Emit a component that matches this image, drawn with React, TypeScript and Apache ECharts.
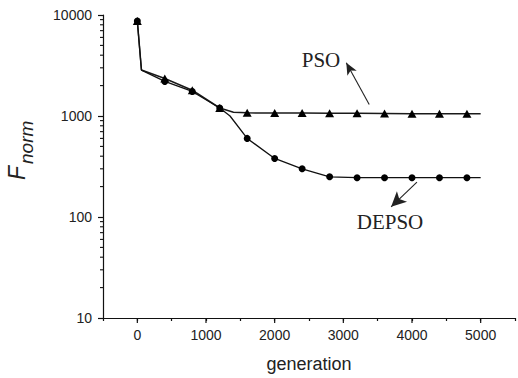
import React, { useEffect, useRef } from "react";
import * as echarts from "echarts";

const generations = [0, 60, 400, 800, 1200, 1400, 1600, 2000, 2400, 2800, 3200, 3600, 4000, 4400, 4800, 5000];
const psoValues = [8700, 2850, 2350, 1800, 1200, 1090, 1075, 1070, 1068, 1065, 1062, 1058, 1055, 1052, 1050, 1050];
const depsoGenerations = [0, 60, 400, 800, 1200, 1350, 1600, 2000, 2400, 2800, 3200, 3600, 4000, 4400, 4800, 5000];
const depsoValues = [8700, 2850, 2200, 1750, 1200, 1000, 600, 380, 300, 250, 245, 245, 245, 245, 245, 245];
const markerEvery = 400;

const yTickLabels = [10, 100, 1000, 10000];
const xTickLabels = [0, 1000, 2000, 3000, 4000, 5000];
const yMinorTicks = [20, 30, 40, 50, 60, 70, 80, 90, 200, 300, 400, 500, 600, 700, 800, 900, 2000, 3000, 4000, 5000, 6000, 7000, 8000, 9000];

// annotation anchor points (data coords)
const psoArrow = [[3377, 1300], [3043, 3370]];
const depsoArrow = [[4072, 221], [3696, 126]];

const SANS = '"Liberation Sans", Arial, sans-serif';
const SERIF = '"Liberation Serif", "Times New Roman", serif';

function buildData(xs: number[], ys: number[]) {
  return xs.map((x, i) => ({
    value: [x, ys[i]],
    symbol: x % markerEvery === 0 && x <= 4800 ? undefined : "none",
  }));
}

export default function App() {
  const ref = useRef<HTMLDivElement>(null);
  useEffect(() => {
    const chart = echarts.init(ref.current!, null, { renderer: "svg" });
    const xMin = -500;
    chart.setOption({
      animation: false,
      grid: { left: 103, top: 15, right: 1, bottom: 59, containLabel: false },
      xAxis: {
        type: "value",
        min: xMin,
        max: 5500,
        interval: 500,
        name: "generation",
        nameLocation: "middle",
        nameGap: 37,
        nameTextStyle: { fontFamily: SANS, fontSize: 18, color: "#222" },
        axisLine: { show: true, onZero: false, lineStyle: { color: "#111", width: 1.2 } },
        axisTick: { show: true, inside: false, length: 3, lineStyle: { color: "#111", width: 1.2 } },
        axisLabel: {
          margin: 10,
          fontFamily: SANS,
          fontSize: 14,
          color: "#222",
          formatter: (v: number) => (xTickLabels.includes(v) ? String(v) : ""),
        },
        splitLine: { show: false },
      },
      yAxis: {
        type: "log",
        logBase: 10,
        min: 10,
        max: 10000,
        axisLine: { show: true, onZero: false, lineStyle: { color: "#111", width: 1.2 } },
        axisTick: { show: true, inside: false, length: 5, lineStyle: { color: "#111", width: 1.2 } },
        axisLabel: {
          margin: 11,
          fontFamily: SANS,
          fontSize: 14,
          color: "#222",
          formatter: (v: number) => {
            const r = Math.round(v);
            return yTickLabels.includes(r) ? String(r) : "";
          },
        },
        splitLine: { show: false },
      },
      series: [
        {
          type: "line",
          name: "PSO",
          data: buildData(generations, psoValues),
          symbol: "triangle",
          symbolSize: [9, 8],
          lineStyle: { color: "#1a1a1a", width: 1.5 },
          itemStyle: { color: "#000" },
          markLine: {
            silent: true,
            symbol: ["none", "arrow"],
            symbolSize: [8, 12],
            label: { show: false },
            lineStyle: { color: "#222", width: 1.1, type: "solid" },
            data: [[{ coord: psoArrow[0] }, { coord: psoArrow[1] }]],
          },
          z: 3,
        },
        {
          type: "line",
          name: "DEPSO",
          data: buildData(depsoGenerations, depsoValues),
          symbol: "circle",
          symbolSize: 7,
          lineStyle: { color: "#111", width: 1.3 },
          itemStyle: { color: "#000" },
          markLine: {
            silent: true,
            symbol: ["none", "arrow"],
            symbolSize: [11, 15],
            label: { show: false },
            lineStyle: { color: "#222", width: 1.1, type: "solid" },
            data: [[{ coord: depsoArrow[0] }, { coord: depsoArrow[1] }]],
          },
          z: 4,
        },
        {
          type: "custom",
          silent: true,
          clip: false,
          data: yMinorTicks.map((v) => [xMin, v]),
          renderItem: (params: any, api: any) => {
            const p = api.coord([api.value(0), api.value(1)]);
            return {
              type: "line",
              shape: { x1: p[0] - 3, y1: p[1], x2: p[0], y2: p[1] },
              style: { stroke: "#111", lineWidth: 1.1 },
            };
          },
        },
        {
          type: "custom",
          silent: true,
          clip: false,
          data: xTickLabels.map((v) => [v, 10]),
          renderItem: (params: any, api: any) => {
            const p = api.coord([api.value(0), api.value(1)]);
            return {
              type: "line",
              shape: { x1: p[0], y1: p[1], x2: p[0], y2: p[1] + 5 },
              style: { stroke: "#111", lineWidth: 1.2 },
            };
          },
        },
      ],
      graphic: [
        {
          type: "text",
          x: 17,
          y: 180,
          rotation: Math.PI / 2,
          style: { text: "F", font: `italic 23px ${SANS}`, fill: "#222", textAlign: "left", textVerticalAlign: "middle" },
        },
        {
          type: "text",
          x: 26,
          y: 164,
          rotation: Math.PI / 2,
          style: { text: "norm", font: `italic 19px ${SANS}`, fill: "#222", textAlign: "left", textVerticalAlign: "middle" },
        },
        {
          type: "text",
          x: 321,
          y: 60,
          style: { text: "PSO", font: `21px ${SERIF}`, fill: "#222", textAlign: "center", textVerticalAlign: "middle" },
        },
        {
          type: "text",
          x: 390,
          y: 222,
          style: { text: "DEPSO", font: `21px ${SERIF}`, fill: "#222", textAlign: "center", textVerticalAlign: "middle" },
        },
      ],
    });
    return () => chart.dispose();
  }, []);
  return (
    <div
      ref={ref}
      style={{ position: "fixed", left: 0, top: 0, width: 518, height: 378, background: "#fff" }}
    />
  );
}
